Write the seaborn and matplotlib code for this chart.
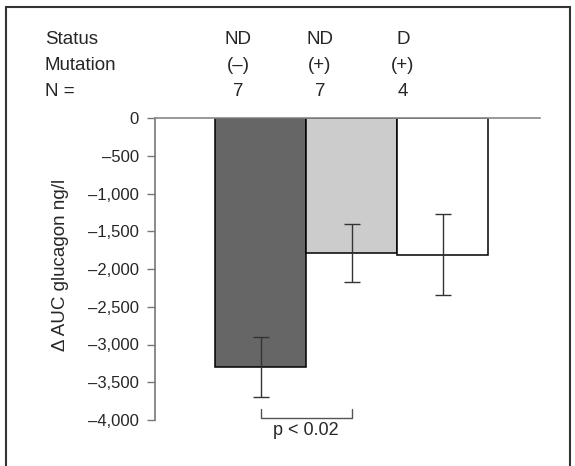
import pandas as pd
import matplotlib.pyplot as plt
import matplotlib.ticker as mticker
from matplotlib.patches import Rectangle
import seaborn as sns

# data
groups = ["ND (\u2013)", "ND (+)", "D (+)"]
status = ["ND", "ND", "D"]
mutation = ["(\u2013)", "(+)", "(+)"]
n_values = ["7", "7", "4"]
mean_auc = [-3300, -1790, -1810]
err_auc = [400, 380, 540]
bar_colors = ["#666666", "#cccccc", "#ffffff"]
yticks = [0, -500, -1000, -1500, -2000, -2500, -3000, -3500, -4000]
p_text = "p < 0.02"

df = pd.DataFrame({"group": groups, "auc": mean_auc, "err": err_auc})

sns.set_style("white")
plt.rcParams["font.family"] = ["Liberation Sans", "DejaVu Sans"]

fig = plt.figure(figsize=(5.75, 4.66), dpi=100)
ax = fig.add_axes([155 / 575, 1 - 420 / 466, 385 / 575, 302 / 466])

sns.barplot(data=df, x="group", y="auc", hue="group", palette=bar_colors,
            width=1.0, edgecolor="black", linewidth=1.1, errorbar=None,
            legend=False, ax=ax)
ax.errorbar(range(len(groups)), df["auc"], yerr=df["err"], fmt="none",
            ecolor="#333333", elinewidth=1.0, capsize=6, capthick=1.0)

ax.set_xlim(-1.16, 3.07)
ax.set_ylim(-4000, 0)
ax.set_yticks(yticks)
ax.yaxis.set_major_formatter(mticker.FuncFormatter(
    lambda v, p: "0" if v == 0 else "\u2013" + format(int(abs(v)), ",")))
ax.tick_params(axis="y", direction="out", length=6, width=1, color="#777777",
               labelsize=12, pad=5.5, left=True)
ax.set_xticks([])
ax.set_xlabel("")
ax.set_ylabel("\u0394 AUC glucagon ng/l", fontsize=13.5)
ax.yaxis.set_label_coords(-0.223, 0.515)

for side in ["right", "bottom"]:
    ax.spines[side].set_visible(False)
ax.spines["left"].set_color("#777777")
ax.spines["left"].set_linewidth(1.2)
ax.spines["top"].set_color("#888888")
ax.spines["top"].set_linewidth(1.2)
ax.set_zorder(1)

# significance bracket between first two bars
ax.plot([0, 0, 1, 1], [-3855, -3970, -3970, -3855], color="#555555",
        lw=1.0, clip_on=False)
ax.text(0.5, -4030, p_text, ha="center", va="top", fontsize=13,
        clip_on=False)

# header rows
header_x = [238 / 575, 320 / 575, 403 / 575]
rows = [("Status", status, 40), ("Mutation", mutation, 65), ("N =", n_values, 91)]
for label, vals, ypix in rows:
    fig.text(45 / 575, 1 - ypix / 466, label, ha="left", va="center", fontsize=13.5)
    for xx, v in zip(header_x, vals):
        fig.text(xx, 1 - ypix / 466, v, ha="center", va="center", fontsize=13.5)

# frame around the panel
fig.add_artist(Rectangle((6 / 575, -0.05), 564 / 575, 1.05 - 7 / 466,
                         transform=fig.transFigure, fill=False,
                         edgecolor="#333333", linewidth=1.5))

fig.savefig("out.png", dpi=100)
